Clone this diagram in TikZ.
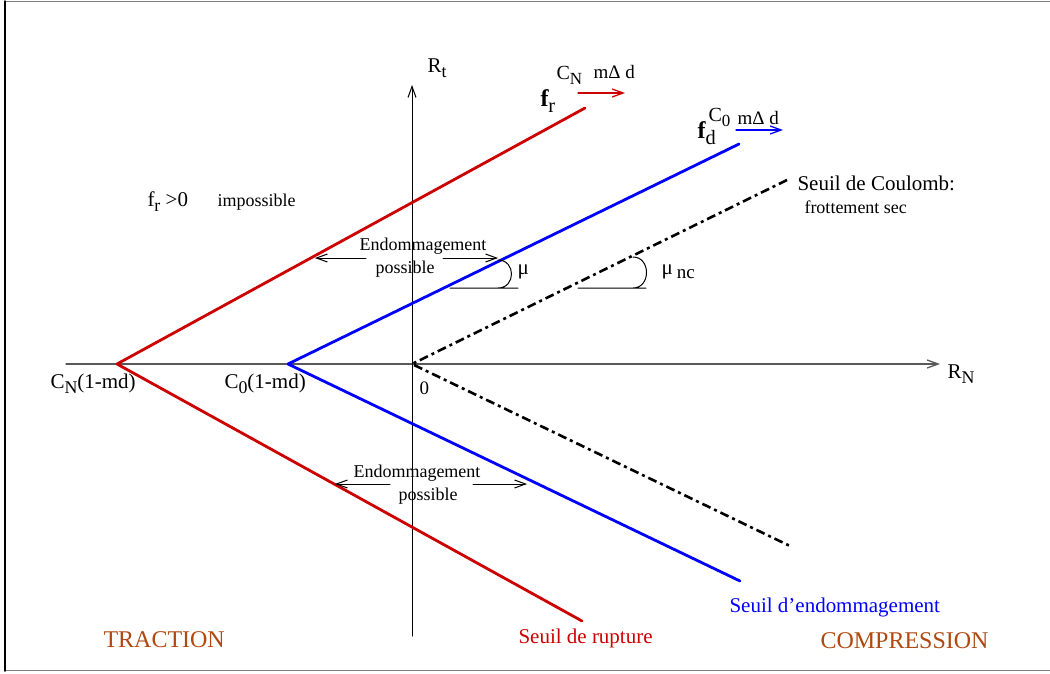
\documentclass[tikz,border=0pt]{standalone}
\usepackage{fontspec}
\usepackage{graphicx}
\setmainfont{Liberation Serif}
\usetikzlibrary{arrows.meta}
\definecolor{rupt}{RGB}{205,0,0}
\definecolor{endo}{RGB}{0,0,255}
\definecolor{zone}{RGB}{176,72,16}
\newcommand\bas[1]{\raisebox{-0.55ex}{\scalebox{0.85}{#1}}}
\newcommand\fs[1]{\fontsize{#1}{#1}\selectfont}
\begin{document}
\begin{tikzpicture}[x=1pt,y=-1pt,line join=round,line cap=round,line width=1pt,>={Straight Barb[length=11pt,width=8pt]},
	lbl/.style={inner sep=0pt,anchor=base west},
	seuil/.style={line width=2.8pt}]
			\useasboundingbox (0,0) rectangle (1050,673);
			\draw[gray,line width=1pt] (5,1.5)--(1050,1.5) (5,670.5)--(1050,670.5);
			\draw[line width=1.5pt] (5,1)--(5,671);
			\path
			(412,364) coordinate (O)
			(117,364) coordinate (CN)
			(288,364) coordinate (C0)
			(66,364) coordinate (Xa)
			(940,364) coordinate (Xb)
			(412,636) coordinate (Ya)
			(412,85) coordinate (Yb)
			(585,108) coordinate (R1)
			(582,621) coordinate (R2)
			(739,144) coordinate (D1)
			(740,581) coordinate (D2)
			(787,180) coordinate (F1)
			(790,546) coordinate (F2)
			;
			\draw[->,gray!70!black,line width=1.3pt] (Xa)--(Xb);
			\draw[->] (Ya)--(Yb);
			\draw[seuil,rupt] (R1)--(CN)--(R2);
			\draw[seuil,endo] (D1)--(C0)--(D2);
			\draw[line width=2.6pt,line cap=butt,dash pattern=on 9pt off 4pt on 3pt off 4pt] (F1)--(O)--(F2);
			% increments of the thresholds
			\path
			(578,93) coordinate (ra) (625,93) coordinate (rb)
			(736,130) coordinate (ba) (783,130) coordinate (bb)
			;
			\draw[->,rupt,line width=1.3pt] (ra)--(rb);
			\draw[->,endo,line width=1.3pt] (ba)--(bb);
			% damage zones
			\path
			(366,258) coordinate (ua) (315,258) coordinate (ub)
			(443,258) coordinate (uc) (498,258) coordinate (ud)
			(390,484) coordinate (la) (335,484) coordinate (lb)
			(473,484) coordinate (lc) (527,484) coordinate (ld)
			;
			\foreach \p/\q in {ua/ub,uc/ud,la/lb,lc/ld}
			\draw[->] (\p)--(\q);
			% friction angles
			\draw (450,288)--(518,288) (498,260) .. controls (516,260) and (516,288) .. (498,288);
			\draw (578,288)--(646,288) (633,257) .. controls (651,257) and (651,288) .. (633,288);
			% labels
			\node[lbl,font=\fs{21}] (Rt) at (427,72) {R\bas{t}};
			\node[lbl,font=\fs{21}] (RN) at (947,378) {R\bas{N}};
			\node[lbl,font=\fs{21}] (cnmd) at (50,388) {C\bas{N}(1-md)};
			\node[lbl,font=\fs{21}] (c0md) at (224,388) {C\bas{0}(1-md)};
			\node[lbl,font=\fs{19}] (zero) at (419,394) {0};
			\node[lbl,font=\fs{20}] (cnup) at (556,79) {C\bas{N}};
			\node[lbl,font=\fs{19}] (rinc) at (593,78) {mΔ d};
			\node[lbl,font=\fs{24}\bfseries] (fr) at (540,106) {f\bas{\mdseries r}};
			\node[lbl,font=\fs{24}] (fd) at (697,138) {\textbf{f}\bas{d}};
			\node[lbl,font=\fs{20}] (c0up) at (708,121) {C\bas{0}};
			\node[lbl,font=\fs{19}] (dinc) at (737,124) {mΔ d};
			\node[lbl,font=\fs{21}] (frpos) at (147,206) {f\bas{r} >0};
			\node[lbl,font=\fs{18}] (imp) at (217,206) {impossible};
			\node[lbl,font=\fs{18}] (endu) at (359,250) {Endommagement};
			\node[lbl,font=\fs{18}] (posu) at (375,273) {possible};
			\node[lbl,font=\fs{18}] (endl) at (353,477) {Endommagement};
			\node[lbl,font=\fs{18}] (posl) at (398,500) {possible};
			\node[lbl,font=\fs{21}] (mu) at (517,274) {μ};
			\node[lbl,font=\fs{21}] (munc) at (661,274) {μ\hspace{4pt}\raisebox{-0.45ex}{\fs{19}nc}};
			\node[lbl,font=\fs{21}] (coul) at (797,190) {Seuil de Coulomb:};
			\node[lbl,font=\fs{18}] (frot) at (804,213) {frottement sec};
			\node[lbl,font=\fs{21},text=endo] (sendo) at (729,612) {Seuil d'endommagement};
			\node[lbl,font=\fs{21},text=rupt] (srupt) at (518,643) {Seuil de rupture};
			\node[lbl,font=\fs{24},text=zone] (trac) at (103,647) {TRACTION};
			\node[lbl,font=\fs{24},text=zone] (comp) at (820,648) {COMPRESSION};
		\end{tikzpicture}
\end{document}
